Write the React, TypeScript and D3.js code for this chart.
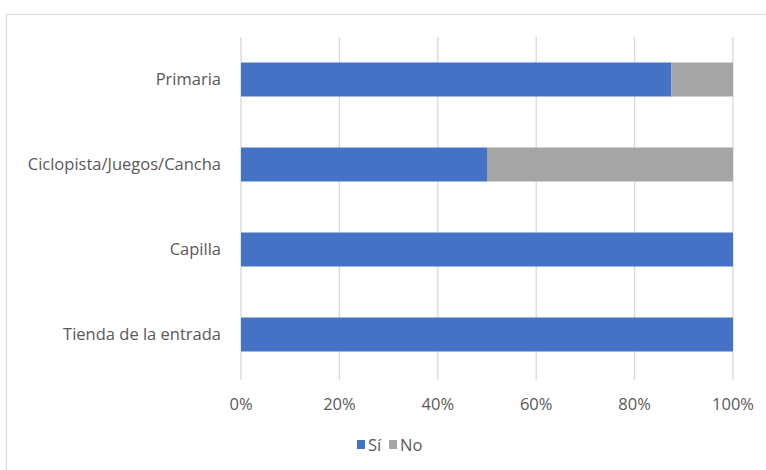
import React from "react";
import * as d3 from "d3";

const categories = ["Primaria", "Ciclopista/Juegos/Cancha", "Capilla", "Tienda de la entrada"];
const siValues = [87.5, 50, 100, 100];
const noValues = [12.5, 50, 0, 0];
const ticks = [0, 20, 40, 60, 80, 100];
const seriesNames = ["Sí", "No"];
const colors = ["#4472C4", "#A5A5A5"];

export default function App() {
  const W = 766, H = 470;
  const fs = 16.5;
  const x = d3.scaleLinear().domain([0, 100]).range([241, 733]);
  const y = d3.scaleBand().domain(categories).range([37, 377]).paddingInner(0.6).paddingOuter(0.3);
  const rows = categories.map((c, i) => ({ c, si: siValues[i], no: noValues[i] }));
  const stack = d3.stack<any>().keys(["si", "no"])(rows as any);
  const font = "'Open Sans', sans-serif";
  const legendW = [16, 22];
  const legendStart = 357;
  const legendItems = seriesNames.map((n, i) => {
    const off = legendStart + (i === 0 ? 0 : 8 + 3 + legendW[0] + 5);
    return { n, c: colors[i], x: off };
  });
  return (
    <svg width={W} height={H} style={{ position: "absolute", left: 0, top: 0, fontFamily: font }}>
      <rect x={0} y={0} width={W} height={H} fill="#fff" />
      <rect x={6.5} y={14.5} width={W + 20} height={H + 20} fill="#fff" stroke="#d9d9d9" strokeWidth={1.2} />
      {ticks.map((t) => (
        <line key={t} x1={x(t)} x2={x(t)} y1={37} y2={380} stroke="#d9d9d9" strokeWidth={1.3} />
      ))}
      {stack.map((s, si) =>
        s.map((d, i) => (
          <rect key={si + "-" + i} x={x(d[0])} width={x(d[1]) - x(d[0])} y={y(categories[i])} height={y.bandwidth()} fill={colors[si]} />
        ))
      )}
      {categories.map((c) => (
        <text key={c} x={221} y={(y(c) as number) + y.bandwidth() / 2} dy="0.35em" textAnchor="end" fontSize={fs} fill="#595959">{c}</text>
      ))}
      {ticks.map((t) => (
        <text key={t} x={x(t)} y={404} dy="0.35em" textAnchor="middle" fontSize={fs} fill="#595959">{t + "%"}</text>
      ))}
      <g>
        {legendItems.map((l) => (
          <g key={l.n}>
            <rect x={l.x} y={440} width={8} height={9} fill={l.c} />
            <text x={l.x + 11} y={445} dy="0.35em" fontSize={fs} fill="#595959">{l.n}</text>
          </g>
        ))}
      </g>
    </svg>
  );
}
